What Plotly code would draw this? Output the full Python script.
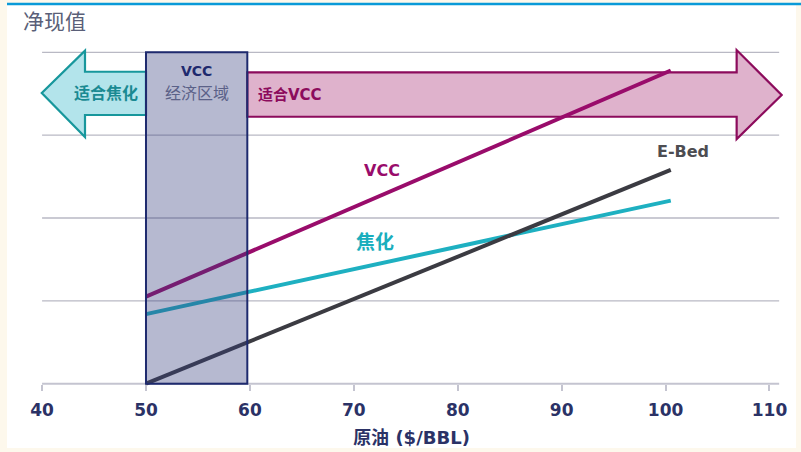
import plotly.graph_objects as go

# Crude oil price ($/BBL) at the two ends of each NPV line
oil_price = [50, 100.5]

# Net present value (relative units) for each process route
npv_vcc = [1.05, 3.78]
npv_coking = [0.84, 2.21]
npv_ebed = [0.0, 2.58]

x_ticks = [40, 50, 60, 70, 80, 90, 100, 110]
grid_levels = [1, 2, 3, 4]

# Economic zone where VCC pays off
vcc_zone = [50, 59.75]

FONT = "DejaVu Sans, Noto Sans CJK SC"
NAVY = "#2b3266"
MAGENTA = "#990c6b"
TEAL = "#1eb0c1"
DARK = "#3b3b42"
GRID = "#b9b9c4"

fig = go.Figure()

fig.add_trace(go.Scatter(x=oil_price, y=npv_vcc, mode="lines",
                         line=dict(color=MAGENTA, width=4), name="VCC"))
fig.add_trace(go.Scatter(x=oil_price, y=npv_coking, mode="lines",
                         line=dict(color=TEAL, width=4), name="焦化"))
fig.add_trace(go.Scatter(x=oil_price, y=npv_ebed, mode="lines",
                         line=dict(color=DARK, width=4), name="E-Bed"))

shapes = []

# page background panel and top rule
shapes.append(dict(type="rect", xref="paper", yref="paper",
                   x0=-0.0444, x1=1.0175, y0=-0.161, y1=1.112,
                   fillcolor="white", line=dict(width=0), layer="below"))
shapes.append(dict(type="line", xref="paper", yref="paper",
                   x0=-0.0444, x1=1.03, y0=1.1149, y1=1.1149,
                   line=dict(color="#0a9ad8", width=2.5), layer="below"))

# horizontal gridlines and the baseline
for g in grid_levels:
    shapes.append(dict(type="line", xref="x", yref="y", x0=40, x1=110.93,
                       y0=g, y1=g, line=dict(color=GRID, width=1.3),
                       layer="below"))
shapes.append(dict(type="line", xref="x", yref="y", x0=40, x1=110.93,
                   y0=0, y1=0, line=dict(color="#c4c4d0", width=2),
                   layer="below"))


def arrow_path(pts):
    return "M " + " L ".join(f"{a},{b}" for a, b in pts) + " Z"


# left arrow: "suits coking"
left_pts = [(vcc_zone[0], 3.765), (44.13, 3.765), (44.13, 4.019),
            (39.97, 3.508), (44.13, 2.977), (44.13, 3.243),
            (vcc_zone[0], 3.243)]
shapes.append(dict(type="path", xref="x", yref="y", path=arrow_path(left_pts),
                   fillcolor="#b3e4eb", line=dict(color="#17979c", width=2.2),
                   layer="between"))

# right arrow: "suits VCC"
right_pts = [(vcc_zone[1], 3.758), (106.84, 3.758), (106.84, 4.027),
             (111.17, 3.484), (106.84, 2.953), (106.84, 3.222),
             (vcc_zone[1], 3.222)]
shapes.append(dict(type="path", xref="x", yref="y", path=arrow_path(right_pts),
                   fillcolor="#dfb2cc", line=dict(color="#8c0b5c", width=2.2),
                   layer="between"))

# VCC economic zone box, translucent over the lines
shapes.append(dict(type="rect", xref="x", yref="y",
                   x0=vcc_zone[0], x1=vcc_zone[1], y0=0, y1=4,
                   fillcolor="rgba(52,62,124,0.36)",
                   line=dict(color="#1e2a6e", width=2), layer="above"))

annotations = [
    dict(x=sum(vcc_zone) / 2, y=3.774, text="<b>VCC</b>", showarrow=False,
         font=dict(family=FONT, size=14, color="#1e2a6e")),
    dict(x=sum(vcc_zone) / 2, y=3.505, text="经济区域", showarrow=False,
         font=dict(family=FONT, size=16, color="#5b6188")),
    dict(x=46.18, y=3.505, text="<b>适合焦化</b>", showarrow=False,
         font=dict(family=FONT, size=16, color="#1a8a92")),
    dict(x=60.59, y=3.484, text="<b>适合VCC</b>", showarrow=False,
         xanchor="left", font=dict(family=FONT, size=15, color="#8c0b5c")),
    dict(x=72.68, y=2.571, text="<b>VCC</b>", showarrow=False,
         font=dict(family=FONT, size=16, color=MAGENTA)),
    dict(x=72.03, y=1.714, text="<b>焦化</b>", showarrow=False,
         font=dict(family=FONT, size=19, color="#1aaebd")),
    dict(x=101.64, y=2.80, text="<b>E-Bed</b>", showarrow=False,
         font=dict(family=FONT, size=16, color="#4d4d52")),
]

fig.update_layout(
    width=801, height=452,
    margin=dict(l=40, r=18, t=44, b=60),
    paper_bgcolor="#fdf8ec",
    plot_bgcolor="rgba(0,0,0,0)",
    showlegend=False,
    title=dict(text="净现值", x=0.0287, xanchor="left", y=0.951,
               yanchor="middle",
               font=dict(family="Noto Sans CJK SC", size=21, color="#5a5f78")),
    xaxis=dict(range=[39.8, 111.3], tickvals=x_ticks,
               ticktext=[str(t) for t in x_ticks],
               anchor="free", position=0.1 / 4.2, automargin=False,
               showgrid=False, zeroline=False, showline=False,
               ticks="outside", ticklen=6, tickwidth=1.5, tickcolor="#c4c4d0",
               ticklabelstandoff=5,
               tickfont=dict(family=FONT, size=17, color=NAVY, weight="bold"),
               title=dict(text="<b>原油 ($/BBL)</b>", standoff=12,
                          font=dict(family=FONT, size=18, color=NAVY))),
    yaxis=dict(range=[-0.1, 4.1], showgrid=False, zeroline=False,
               showline=False, showticklabels=False, ticks="",
               automargin=False),
    shapes=shapes,
    annotations=annotations,
)

fig.write_html("out.html")
